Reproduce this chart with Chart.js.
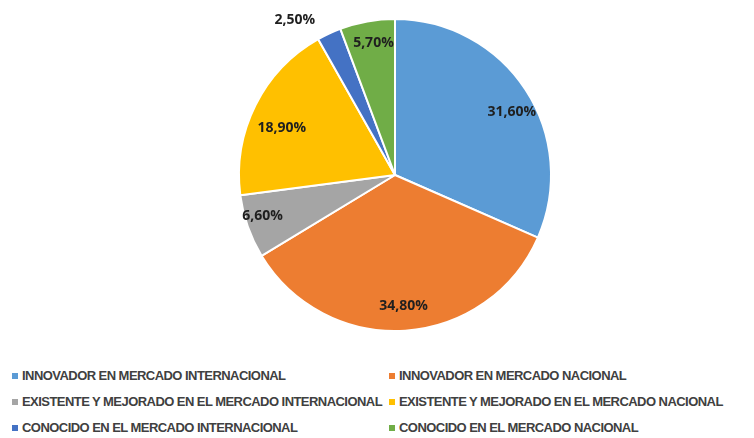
<!DOCTYPE html>
<html lang="es">
<head>
    <meta charset="UTF-8">
    <title>Tipo de innovación</title>
    <script src="https://cdn.jsdelivr.net/npm/chart.js"></script>
    <style>
        body {
            margin: 0;
            background: #ffffff;
            font-family: "Liberation Sans", Arial, sans-serif;
        }
        .wrap {
            position: relative;
            width: 754px;
            height: 438px;
        }
        .chart-box {
            position: absolute;
            left: 0;
            top: 0;
            width: 754px;
            height: 350px;
        }
        .legend {
            position: absolute;
            left: 0;
            top: 363px;
            width: 754px;
        }
        .legend .item {
            position: absolute;
            white-space: nowrap;
            font-size: 13px;
            font-weight: bold;
            letter-spacing: -0.55px;
            color: #404040;
            line-height: 26px;
        }
        .legend .item span {
            display: inline-block;
            width: 6px;
            height: 6px;
            margin-right: 4px;
            vertical-align: 1px;
        }
    </style>
</head>
<body>
<div class="wrap">
    <div class="chart-box"><canvas id="pie"></canvas></div>
    <div class="legend" id="legend"></div>
</div>

<script>
    const categories = [
        'INNOVADOR EN MERCADO INTERNACIONAL',
        'INNOVADOR EN MERCADO NACIONAL',
        'EXISTENTE Y MEJORADO EN EL MERCADO INTERNACIONAL',
        'EXISTENTE Y MEJORADO EN EL MERCADO NACIONAL',
        'CONOCIDO EN EL MERCADO INTERNACIONAL',
        'CONOCIDO EN EL MERCADO NACIONAL'
    ];
    const shares = [31.6, 34.8, 6.6, 18.9, 2.5, 5.7];
    const colors = ['#5b9bd5', '#ed7d31', '#a5a5a5', '#ffc000', '#4472c4', '#70ad47'];

    // label placement: fraction of the radius and a small angle nudge (degrees)
    const labelRadius = [0.85, 0.84, 0.89, 0.785, 1.0, 0.86];
    const labelNudge = [5, 0, 2, -4, 0, 1];
    const outsideLabel = [false, false, false, false, true, false];

    const fmt = v => v.toFixed(2).replace('.', ',') + '%';

    const sliceLabels = {
        id: 'sliceLabels',
        afterDatasetsDraw(chart) {
            const ctx = chart.ctx;
            const meta = chart.getDatasetMeta(0);
            ctx.save();
            ctx.font = 'bold 14px "Open Sans", "Liberation Sans", Arial, sans-serif';
            ctx.fillStyle = '#1f1f1f';
            meta.data.forEach((arc, i) => {
                const p = arc.getProps(['x', 'y', 'startAngle', 'endAngle', 'outerRadius'], true);
                const mid = (p.startAngle + p.endAngle) / 2 + labelNudge[i] * Math.PI / 180;
                const r = p.outerRadius * labelRadius[i];
                let x = p.x + Math.cos(mid) * r;
                let y = p.y + Math.sin(mid) * r;
                if (outsideLabel[i]) {
                    ctx.textAlign = 'right';
                    ctx.textBaseline = 'bottom';
                    x -= 14;
                    y -= 7;
                } else {
                    ctx.textAlign = 'center';
                    ctx.textBaseline = 'middle';
                }
                ctx.fillText(fmt(shares[i]), x, y);
            });
            ctx.restore();
        }
    };

    new Chart(document.getElementById('pie'), {
        type: 'pie',
        data: {
            labels: categories,
            datasets: [{
                data: shares,
                backgroundColor: colors,
                borderColor: '#ffffff',
                borderWidth: 2
            }]
        },
        options: {
            responsive: true,
            maintainAspectRatio: false,
            animation: false,
            layout: { padding: { left: 36, top: 18, bottom: 18 } },
            plugins: {
                legend: { display: false },
                tooltip: { enabled: false }
            }
        },
        plugins: [sliceLabels]
    });

    // two-column legend under the pie
    const legend = document.getElementById('legend');
    categories.forEach((name, i) => {
        const item = document.createElement('div');
        item.className = 'item';
        item.style.left = (i % 2 === 0 ? 12 : 389) + 'px';
        item.style.top = (Math.floor(i / 2) * 26) + 'px';
        item.innerHTML = '<span style="background:' + colors[i] + '"></span>' + name;
        legend.appendChild(item);
    });
</script>
</body>
</html>
